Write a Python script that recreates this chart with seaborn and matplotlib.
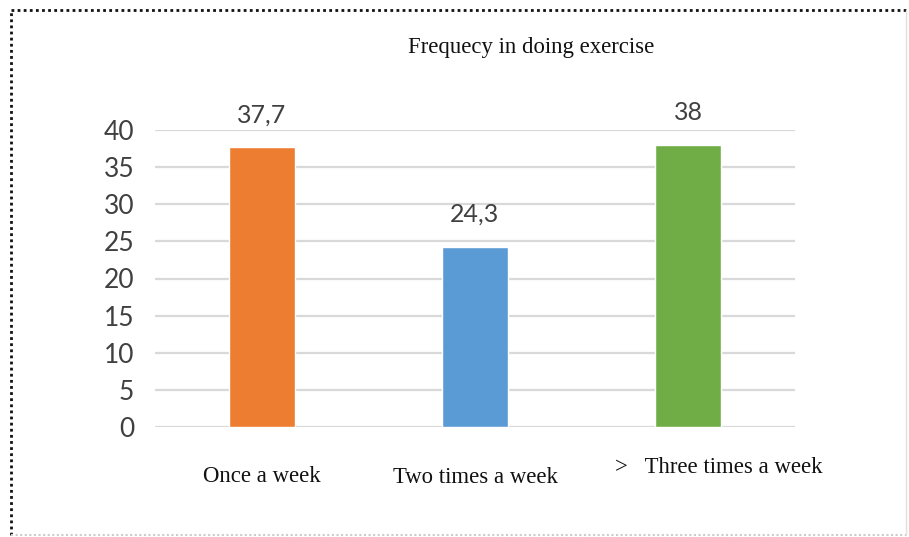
import matplotlib
matplotlib.use("Agg")
import matplotlib.pyplot as plt
import matplotlib.transforms as mtransforms
from matplotlib.lines import Line2D
import seaborn as sns
import pandas as pd

# Exercise frequency survey (percent of respondents)
categories = ["Once a week", "Two times a week", ">   Three times a week"]
values = [37.7, 24.3, 38.0]
value_labels = ["37,7", "24,3", "38"]
colors = ["#ED7D31", "#5B9BD5", "#70AD47"]
yticks = [0, 5, 10, 15, 20, 25, 30, 35, 40]

df = pd.DataFrame({"freq": categories, "pct": values})

sns.set_theme(style="white")
plt.rcParams["font.family"] = ["Liberation Sans", "DejaVu Sans"]

fig = plt.figure(figsize=(9.09, 5.37), dpi=100)
ax = fig.add_axes([155 / 909, 110 / 537, 640 / 909, 297 / 537])

sns.barplot(data=df, x="freq", y="pct", hue="freq", palette=colors,
            width=0.31, legend=False, ax=ax, saturation=1)

ax.set_ylim(0, 40)
ax.set_xlim(-0.5, 2.5)
ax.set_yticks(yticks)
ax.set_yticklabels([str(t) for t in yticks], fontsize=19, color="#404040",
                   family=["Lato", "DejaVu Sans"])
ax.tick_params(axis="y", length=0, pad=15)
ax.tick_params(axis="x", length=0, pad=28)
ax.yaxis.grid(True, color="#D9D9D9", linewidth=1.6)
ax.set_axisbelow(True)
for s in ax.spines.values():
    s.set_visible(False)
ax.set_xlabel("")
ax.set_ylabel("")

# category labels in a serif face
ax.set_xticks(range(len(categories)))
ax.set_xticklabels(categories, fontsize=16.4, color="#111111",
                   family=["Liberation Serif", "DejaVu Serif"])
shifts = [(0, 0), (0, -1), (30, 9)]
for lab, (dx, dy) in zip(ax.get_xticklabels(), shifts):
    lab.set_transform(lab.get_transform() +
                      mtransforms.ScaledTranslation(dx / 100, dy / 100, fig.dpi_scale_trans))

# value labels above bars
for i, (v, t) in enumerate(zip(values, value_labels)):
    ax.annotate(t, (i, v), xytext=(0, 15), textcoords="offset points",
                ha="center", va="bottom", fontsize=18, color="#404040",
                family=["Lato", "DejaVu Sans"], annotation_clip=False)

fig.text(531 / 909, 1 - 48 / 537, "Frequecy in doing exercise", ha="center", va="center",
         fontsize=16.4, color="#111111", family=["Liberation Serif", "DejaVu Serif"])

# dotted frame around the chart
x0, x1 = 11 / 909, 906 / 909
y0, y1 = 1 - 535 / 537, 1 - 10 / 537
fig.add_artist(Line2D([x0, x1], [y1, y1], transform=fig.transFigure,
                      color="#111111", linestyle=(0, (1, 1.2)), linewidth=2))
fig.add_artist(Line2D([x0, x0], [y0, y1], transform=fig.transFigure,
                      color="#111111", linestyle=(0, (1, 1.2)), linewidth=2))
fig.add_artist(Line2D([x0, x1], [y0, y0], transform=fig.transFigure,
                      color="#CCCCCC", linestyle=(0, (1, 1.2)), linewidth=1.5))
fig.add_artist(Line2D([x1, x1], [y0, y1], transform=fig.transFigure,
                      color="#E0E0E0", linestyle="-", linewidth=1))

fig.savefig("out.png", dpi=100, facecolor="white")
